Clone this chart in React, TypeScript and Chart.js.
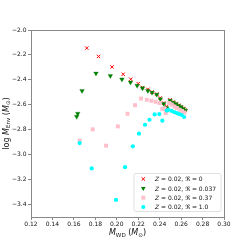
import React, { useEffect, useRef } from 'react';
import { Chart, registerables } from 'chart.js';
Chart.register(...registerables);

// Z = 0.02, R = 0
const R0_X = [0.172, 0.183, 0.1956, 0.206, 0.213, 0.22, 0.224, 0.229, 0.2329, 0.2373, 0.2406, 0.2438, 0.2466, 0.2497, 0.2527, 0.2553, 0.2578, 0.2599, 0.2621, 0.264];
const R0_Y = [-2.145, -2.212, -2.296, -2.355, -2.395, -2.43, -2.462, -2.476, -2.498, -2.514, -2.545, -2.586, -2.614, -2.56, -2.577, -2.59, -2.604, -2.615, -2.628, -2.642];
// Z = 0.02, R = 0.037
const R037_X = [0.1626, 0.1636, 0.1676, 0.1806, 0.194, 0.2048, 0.2128, 0.219, 0.224, 0.229, 0.2329, 0.2373, 0.2406, 0.2438, 0.2466, 0.2497, 0.2527, 0.2553, 0.2578, 0.2599, 0.2621, 0.264];
const R037_Y = [-2.695, -2.67, -2.488, -2.348, -2.368, -2.395, -2.42, -2.446, -2.467, -2.488, -2.502, -2.518, -2.554, -2.592, -2.626, -2.566, -2.582, -2.594, -2.608, -2.618, -2.632, -2.646];
// Z = 0.02, R = 0.37
const R37_X = [0.1654, 0.1775, 0.19, 0.201, 0.21, 0.217, 0.2226, 0.228, 0.2322, 0.2362, 0.2399, 0.2425, 0.2447, 0.2468, 0.2456, 0.2488, 0.2513, 0.2538, 0.2562, 0.2587, 0.2609, 0.2631];
const R37_Y = [-2.888, -2.797, -2.928, -2.773, -2.672, -2.603, -2.55, -2.56, -2.568, -2.576, -2.586, -2.632, -2.632, -2.646, -2.666, -2.586, -2.598, -2.614, -2.626, -2.64, -2.65, -2.662];
// Z = 0.02, R = 1.0
const R10_X = [0.1654, 0.1766, 0.1993, 0.2077, 0.215, 0.2207, 0.2263, 0.2305, 0.2353, 0.2397, 0.2425, 0.2466, 0.2482, 0.251, 0.2535, 0.256, 0.2581, 0.2606, 0.2628];
const R10_Y = [-2.907, -3.11, -3.363, -3.1, -2.933, -2.832, -2.76, -2.72, -2.677, -2.674, -2.727, -2.646, -2.64, -2.648, -2.658, -2.666, -2.674, -2.682, -2.698];

const X_TICKS = [0.12, 0.14, 0.16, 0.18, 0.2, 0.22, 0.24, 0.26, 0.28, 0.3];
const Y_TICKS = [-3.4, -3.2, -3.0, -2.8, -2.6, -2.4, -2.2, -2.0];
const LEGEND_R = ['0', '0.037', '0.37', '1.0'];

const FONT = '"DejaVu Sans", sans-serif';
const COLORS = ['red', 'green', 'pink', 'cyan'];

type Seg = { t: string; size: number; italic?: boolean; dy?: number };

function segWidth(ctx: CanvasRenderingContext2D, segs: Seg[]) {
  let w = 0;
  for (const s of segs) {
    ctx.font = `${s.italic ? 'italic ' : ''}${s.size}px ${FONT}`;
    w += ctx.measureText(s.t).width;
  }
  return w;
}

function drawSegs(ctx: CanvasRenderingContext2D, segs: Seg[], x: number, y: number, align: 'center' | 'left') {
  const total = segWidth(ctx, segs);
  let cx = align === 'center' ? x - total / 2 : x;
  ctx.textAlign = 'left';
  ctx.textBaseline = 'alphabetic';
  for (const s of segs) {
    ctx.font = `${s.italic ? 'italic ' : ''}${s.size}px ${FONT}`;
    ctx.fillText(s.t, cx, y + (s.dy || 0));
    cx += ctx.measureText(s.t).width;
  }
}

function drawMarker(ctx: CanvasRenderingContext2D, idx: number, x: number, y: number) {
  ctx.save();
  ctx.fillStyle = COLORS[idx];
  ctx.strokeStyle = COLORS[idx];
  if (idx === 0) {
    const d = 1.7;
    ctx.lineWidth = 1;
    ctx.beginPath();
    ctx.moveTo(x - d, y - d); ctx.lineTo(x + d, y + d);
    ctx.moveTo(x + d, y - d); ctx.lineTo(x - d, y + d);
    ctx.stroke();
  } else if (idx === 1) {
    const r = 2.7;
    ctx.beginPath();
    ctx.moveTo(x, y + r);
    ctx.lineTo(x - r * Math.sin(Math.PI / 3), y - r / 2);
    ctx.lineTo(x + r * Math.sin(Math.PI / 3), y - r / 2);
    ctx.closePath();
    ctx.fill();
  } else if (idx === 2) {
    ctx.fillRect(x - 2, y - 2, 4, 4);
  } else {
    ctx.beginPath();
    ctx.arc(x, y, 2.1, 0, Math.PI * 2);
    ctx.fill();
  }
  ctx.restore();
}

const decorPlugin = {
  id: 'decor',
  afterDraw(chart: any) {
    const ctx: CanvasRenderingContext2D = chart.ctx;
    const a = chart.chartArea;
    ctx.save();
    // box
    ctx.strokeStyle = '#888';
    ctx.lineWidth = 1;
    ctx.strokeRect(Math.round(a.left) + 0.5, Math.round(a.top) + 0.5, Math.round(a.right - a.left), Math.round(a.bottom - a.top));
    ctx.fillStyle = '#111';
    // x title
    const xs: Seg[] = [
      { t: 'M', size: 8, italic: true },
      { t: 'WD', size: 5.6, dy: 1.6 },
      { t: ' (', size: 8 },
      { t: 'M', size: 8, italic: true },
      { t: '⊙', size: 5.6, dy: 1.6 },
      { t: ')', size: 8 },
    ];
    drawSegs(ctx, xs, (a.left + a.right) / 2, 235, 'center');
    // y title
    const ys: Seg[] = [
      { t: 'log ', size: 8 },
      { t: 'M', size: 8, italic: true },
      { t: 'Env', size: 5.6, dy: 1.6 },
      { t: ' (', size: 8 },
      { t: 'M', size: 8, italic: true },
      { t: '⊙', size: 5.6, dy: 1.6 },
      { t: ')', size: 8 },
    ];
    ctx.save();
    ctx.translate(8.5, (a.top + a.bottom) / 2);
    ctx.rotate(-Math.PI / 2);
    drawSegs(ctx, ys, 0, 0, 'center');
    ctx.restore();
    // legend
    const lx = 134, ly = 173.5, lw = 87, lh = 38;
    ctx.beginPath();
    const rr = 2;
    ctx.moveTo(lx + rr, ly);
    ctx.lineTo(lx + lw - rr, ly);
    ctx.arcTo(lx + lw, ly, lx + lw, ly + rr, rr);
    ctx.lineTo(lx + lw, ly + lh - rr);
    ctx.arcTo(lx + lw, ly + lh, lx + lw - rr, ly + lh, rr);
    ctx.lineTo(lx + rr, ly + lh);
    ctx.arcTo(lx, ly + lh, lx, ly + lh - rr, rr);
    ctx.lineTo(lx, ly + rr);
    ctx.arcTo(lx, ly, lx + rr, ly, rr);
    ctx.closePath();
    ctx.fillStyle = 'rgba(255,255,255,0.8)';
    ctx.fill();
    ctx.strokeStyle = '#d8d8d8';
    ctx.lineWidth = 0.8;
    ctx.stroke();
    const rows = [179, 188.3, 197.7, 207];
    LEGEND_R.forEach((r, i) => {
      drawMarker(ctx, i, 143.3, rows[i]);
      ctx.fillStyle = '#111';
      drawSegs(ctx, [
        { t: 'Z', size: 6, italic: true },
        { t: ' = 0.02, ℜ = ' + r, size: 6 },
      ], 155, rows[i] + 2.2, 'left');
    });
    ctx.restore();
  },
};

function mk(xs: number[], ys: number[]) {
  return xs.map((x, i) => ({ x, y: ys[i] }));
}

export default function App() {
  const ref = useRef<HTMLCanvasElement | null>(null);
  useEffect(() => {
    if (!ref.current) return;
    const chart = new Chart(ref.current, {
      type: 'scatter',
      data: {
        datasets: [
          { label: 'R0', data: mk(R0_X, R0_Y), pointStyle: 'crossRot', pointRadius: 2.4, borderColor: 'red', backgroundColor: 'red', borderWidth: 1, order: 3 },
          { label: 'R037', data: mk(R037_X, R037_Y), pointStyle: 'triangle', pointRotation: 180, pointRadius: 2.7, borderColor: 'green', backgroundColor: 'green', borderWidth: 0.3, order: 2 },
          { label: 'R37', data: mk(R37_X, R37_Y), pointStyle: 'rect', pointRadius: 2.8, borderColor: 'pink', backgroundColor: 'pink', borderWidth: 0, order: 1 },
          { label: 'R10', data: mk(R10_X, R10_Y), pointStyle: 'circle', pointRadius: 2.1, borderColor: 'cyan', backgroundColor: 'cyan', borderWidth: 0, order: 0 },
        ] as any,
      },
      options: {
        animation: false,
        responsive: false,
        devicePixelRatio: 1,
        layout: { padding: { top: 30, right: 25, left: 0, bottom: 0 } },
        plugins: { legend: { display: false }, tooltip: { enabled: false } },
        scales: {
          x: {
            type: 'linear',
            min: 0.12,
            max: 0.3,
            afterBuildTicks: (s: any) => { s.ticks = X_TICKS.map((v) => ({ value: v })); },
            afterFit: (s: any) => { s.height = 32; },
            ticks: { callback: (v: any) => Number(v).toFixed(2), font: { size: 6, family: FONT }, color: '#111', maxRotation: 0, autoSkip: false, padding: 1 },
            grid: { drawOnChartArea: false, drawTicks: true, tickLength: 3, color: '#888' },
            border: { display: true, color: '#888' },
          },
          y: {
            type: 'linear',
            min: -3.5,
            max: -2.0,
            afterBuildTicks: (s: any) => { s.ticks = Y_TICKS.map((v) => ({ value: v })); },
            afterFit: (s: any) => { s.width = 31; },
            ticks: { callback: (v: any) => Number(v).toFixed(1).replace('-', '\u2212'), font: { size: 6, family: FONT }, color: '#111', autoSkip: false, padding: 1.5 },
            grid: { drawOnChartArea: false, drawTicks: true, tickLength: 3, color: '#888' },
            border: { display: true, color: '#888' },
          },
        },
      } as any,
      plugins: [decorPlugin],
    });
    return () => chart.destroy();
  }, []);
  return (
    <canvas ref={ref} width={249} height={249} style={{ position: 'absolute', left: 0, top: 0, width: 249, height: 249 }} />
  );
}
